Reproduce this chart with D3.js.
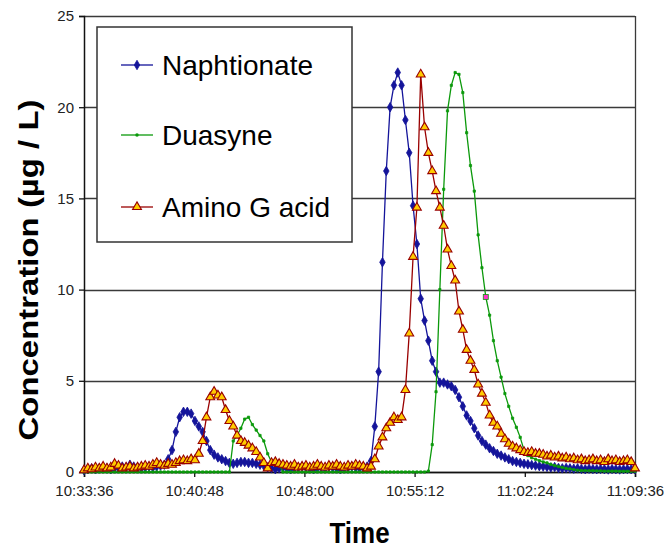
<!DOCTYPE html>
<html>
<head>
<meta charset="utf-8">
<script src="https://cdn.jsdelivr.net/npm/d3@7"></script>
<style>
  body { margin: 0; background: #fff; }
  text { font-family: "Liberation Sans", Arial, sans-serif; }
</style>
</head>
<body>
<div id="viz"></div>
<script>
// sampling: one reading every 15 s from 10:33:36
var startTime = "10:33:36";
var stepSeconds = 15;

var tickLabels = ["10:33:36", "10:40:48", "10:48:00", "10:55:12", "11:02:24", "11:09:36"];
var yTicks = [0, 5, 10, 15, 20, 25];

var seriesNames = ["Naphtionate", "Duasyne", "Amino G acid"];

var naphtionate = [
  0.1,0.15,0.2,0.15,0.2,0.25,0.2,0.15,0.2,0.25,0.3,0.25,0.4,0.3,0.25,0.2,0.25,0.3,0.25,0.3,0.35,
  0.4,0.7,1.2,2.2,3.0,3.3,3.3,3.2,2.8,2.5,2.2,1.7,1.2,0.95,0.8,0.7,0.6,0.5,0.45,0.5,0.55,0.55,0.5,0.5,0.45,0.4,0.35,0.25,0.2,
  0.15,0.2,0.25,0.2,0.15,0.2,0.25,0.3,0.25,0.2,0.15,0.2,0.25,0.2,0.3,0.25,0.2,0.15,0.2,0.25,0.3,0.25,0.2,0.25,
  0.3,0.6,2.5,5.5,11.5,16.5,20.0,21.2,21.9,21.2,19.3,17.5,14.6,12.5,9.5,8.3,7.2,6.1,5.5,4.9,4.9,4.8,4.7,4.5,4.1,3.6,3.1,2.8,2.4,2.0,1.7,1.5,1.3,1.15,1.0,0.9,0.8,0.7,0.6,0.55,0.5,0.45,0.42,0.38,0.35,0.32,0.3,
  0.28,0.25,0.27,0.22,0.2,0.22,0.2,0.18,0.2,0.17,0.15,0.18,0.16,0.15,0.17,0.15,0.14,0.16,0.15,0.14,0.15,0.16,0.15,0.15
];

var duasyne = [
  0,0,0,0,0,0,0,0,0,0,0,0,0,0,0,0,0,0,0,0,0,0,0,0,0,0,0,0,0,0,0,0,0,0,0,0,0,0,0,
  1.7,2.0,2.4,2.9,3.0,2.6,2.3,2.0,1.7,1.0,0.55,0.5,0.45,0,
  0,0,0,0,0,0,0,0,0,0,0,0,0,0,0,0,0,0,0,0,0,0,0,0,0,0,0,0,0,0,0,0,0,0,0,0,0,
  0.05,1.5,4.4,10.0,15.5,19.8,21.2,21.9,21.8,20.8,18.6,16.8,15.4,13.0,11.2,9.6,8.6,7.2,6.1,5.2,4.3,3.6,2.95,2.45,1.9,1.2,0.9,0.78,0.7,0.62,0.55,0.5,0.42,0.35,0.3,0.25,0.2,0.17,0.13,0.1,
  0.08,0.08,0.07,0.07,0.06,0.06,0.05,0.05,0.05,0.05,0.04,0.04,0.04,0.04,0.04
];

var aminoG = [
  0.1,0.2,0.15,0.25,0.2,0.3,0.2,0.25,0.45,0.35,0.2,0.25,0.3,0.2,0.25,0.3,0.35,
  0.3,0.4,0.5,0.4,0.35,0.45,0.4,0.5,0.6,0.65,0.6,0.7,0.65,1.0,1.7,3.0,4.1,4.4,4.2,4.1,3.4,2.8,2.5,2.0,1.7,1.6,1.45,1.3,1.1,0.8,0.5,0.2,0.5,0.55,0.45,0.4,
  0.35,0.3,0.4,0.25,0.3,0.35,0.25,0.3,0.4,0.3,0.25,0.35,0.3,0.4,0.3,0.25,0.35,0.3,0.4,0.35,0.3,
  0.2,0.3,0.7,1.4,1.9,2.4,2.7,3.0,2.85,3.0,4.5,7.6,11.8,14.5,21.8,18.9,17.5,16.5,15.4,14.5,13.5,12.2,11.3,10.5,8.8,7.8,6.7,6.1,5.6,4.8,4.3,3.8,3.1,2.7,2.5,2.1,1.8,1.55,1.4,1.3,1.2,1.1,1.05,1.1,1.0,1.0,0.95,0.85,0.9,0.8,0.85,0.75,0.8,0.7,0.75,0.65,0.7,
  0.6,0.65,0.7,0.6,0.65,0.55,0.7,0.6,0.65,0.55,0.6,0.65,0.55,0.2
];

// one Duasyne point shown as a selected (pink) marker
var selectedDuasyne = 105;

var colors = ["#14149a", "#0b990b", "#990000"];

var margin = {top: 16, right: 29, bottom: 78, left: 84};
var totalWidth = 664, totalHeight = 550;
var width = totalWidth - margin.left - margin.right;
var height = totalHeight - margin.top - margin.bottom;

var parseTime = d3.timeParse("%H:%M:%S");
var formatTime = d3.timeFormat("%H:%M:%S");
var t0 = parseTime(startTime);

function toPoints(values) {
  return values.map(function(v, i) {
    return {t: new Date(t0.getTime() + i * stepSeconds * 1000), v: v};
  });
}

var series = [naphtionate, duasyne, aminoG].map(function(values, k) {
  return {name: seriesNames[k], color: colors[k], points: toPoints(values)};
});

var tickDates = tickLabels.map(parseTime);

var x = d3.scaleTime()
    .domain([tickDates[0], tickDates[tickDates.length - 1]])
    .range([0, width]);

var y = d3.scaleLinear()
    .domain([0, 25])
    .range([height, 0]);

var svg = d3.select("#viz").append("svg")
    .attr("width", totalWidth)
    .attr("height", totalHeight);

var g = svg.append("g")
    .attr("transform", "translate(" + margin.left + "," + margin.top + ")");

// gridlines
g.append("g")
    .selectAll("line")
    .data(yTicks)
    .enter()
    .append("line")
    .attr("x1", 0)
    .attr("x2", width)
    .attr("y1", function(d) { return Math.round(y(d)) + 0.5; })
    .attr("y2", function(d) { return Math.round(y(d)) + 0.5; })
    .attr("stroke", "#3a3a3a")
    .attr("stroke-width", 1.3);

// right border of plot area
g.append("line")
    .attr("x1", width + 0.5).attr("x2", width + 0.5)
    .attr("y1", 0).attr("y2", height)
    .attr("stroke", "#3a3a3a")
    .attr("stroke-width", 1.3);

// axes
var yAxis = g.append("g")
    .call(d3.axisLeft(y).tickValues(yTicks).tickSize(5).tickPadding(5));

var xAxis = g.append("g")
    .attr("transform", "translate(0," + height + ")")
    .call(d3.axisBottom(x).tickValues(tickDates).tickFormat(formatTime).tickSize(5).tickPadding(8));

[yAxis, xAxis].forEach(function(a) {
  a.select(".domain").attr("stroke", "#111").attr("stroke-width", 1.5);
  a.selectAll(".tick line").attr("stroke", "#111").attr("stroke-width", 1.3);
  a.selectAll(".tick text")
      .attr("fill", "#222")
      .style("font-family", "'Liberation Sans', Arial, sans-serif")
      .style("font-size", "15px");
});

// series
var line = d3.line()
    .x(function(d) { return x(d.t); })
    .y(function(d) { return y(d.v); });

var markerShapes = [
  d3.symbol().type(d3.symbolDiamond).size(26),
  d3.symbol().type(d3.symbolSquare).size(5),
  d3.symbol().type(d3.symbolTriangle).size(34)
];

series.forEach(function(s, k) {
  var sg = g.append("g").attr("class", "series");
  sg.append("path")
      .datum(s.points)
      .attr("fill", "none")
      .attr("stroke", s.color)
      .attr("stroke-width", 1.3)
      .attr("d", line);

  sg.selectAll("path.marker")
      .data(s.points)
      .enter()
      .append("path")
      .attr("class", "marker")
      .attr("transform", function(d) { return "translate(" + x(d.t) + "," + y(d.v) + ")"; })
      .attr("d", markerShapes[k])
      .attr("fill", k == 2 ? "#ffcc00" : s.color)
      .attr("stroke", s.color)
      .attr("stroke-width", k == 2 ? 1.1 : 0.8);
});

// the pink highlighted point on Duasyne
var sel = series[1].points[selectedDuasyne];
g.append("rect")
    .attr("x", x(sel.t) - 2.5)
    .attr("y", y(sel.v) - 2.5)
    .attr("width", 5)
    .attr("height", 5)
    .attr("fill", "#ff33cc")
    .attr("stroke", "#0b990b")
    .attr("stroke-width", 0.8);

// legend
var legend = svg.append("g").attr("transform", "translate(97,27)");
legend.append("rect")
    .attr("width", 255)
    .attr("height", 215)
    .attr("fill", "#fff")
    .attr("stroke", "#333")
    .attr("stroke-width", 1.5);

var rowY = [38, 108, 180];
series.forEach(function(s, k) {
  var row = legend.append("g").attr("transform", "translate(0," + rowY[k] + ")");
  row.append("line")
      .attr("x1", 24).attr("x2", 56)
      .attr("stroke", s.color)
      .attr("stroke-width", 1.3);
  row.append("path")
      .attr("transform", "translate(40,0)")
      .attr("d", markerShapes[k])
      .attr("fill", k == 2 ? "#ffcc00" : s.color)
      .attr("stroke", s.color)
      .attr("stroke-width", k == 2 ? 1.1 : 0.8);
  row.append("text")
      .attr("x", 65)
      .attr("y", 10)
      .attr("fill", "#000")
      .style("font-size", "28px")
      .text(s.name);
});

// axis titles
svg.append("text")
    .attr("transform", "translate(" + (margin.left + width / 2) + ",543) scale(1,1.15)")
    .attr("text-anchor", "middle")
    .style("font-size", "26px")
    .style("font-weight", "bold")
    .text("Time");

svg.append("text")
    .attr("transform", "translate(38,270) rotate(-90) scale(1.22,1)")
    .attr("text-anchor", "middle")
    .style("font-size", "27px")
    .style("font-weight", "bold")
    .text("Concentration (\u00b5g / L)");
</script>
</body>
</html>
